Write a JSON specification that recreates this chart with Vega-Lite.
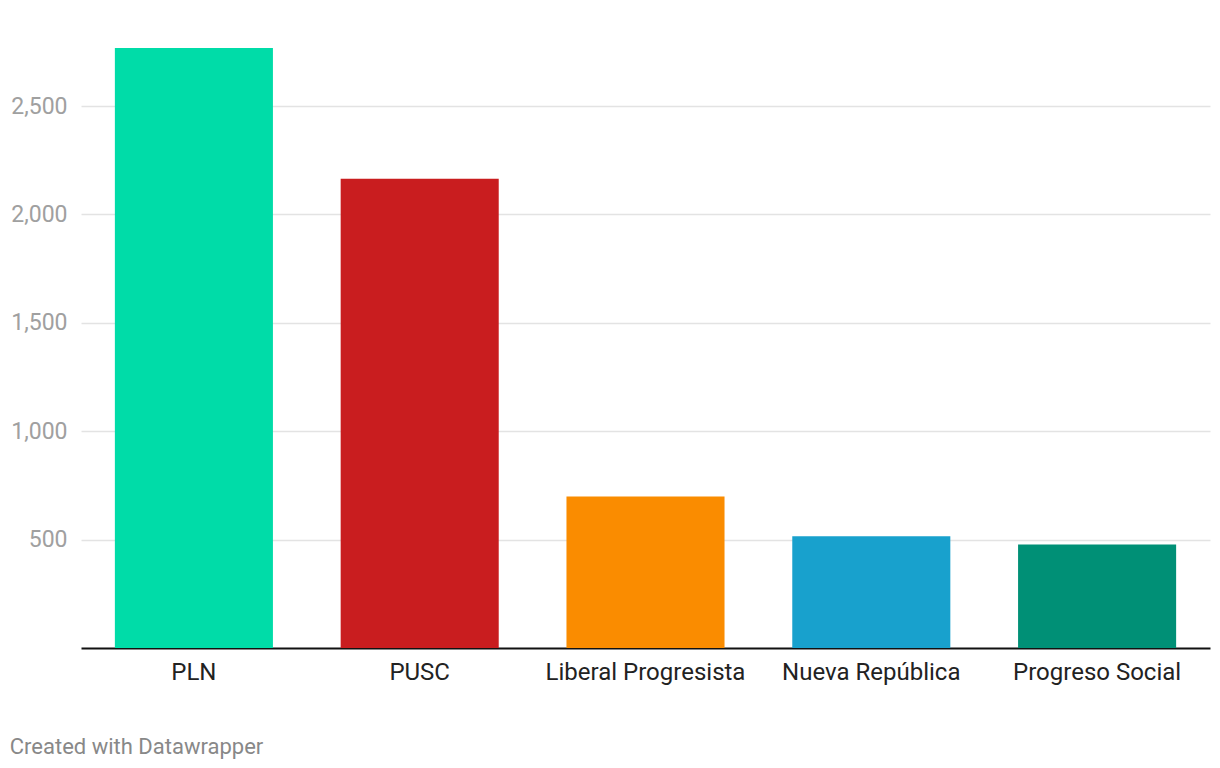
{
  "$schema": "https://vega.github.io/schema/vega-lite/v6.json",
  "width": 1129,
  "height": 600,
  "autosize": "none",
  "padding": {"left": 81, "top": 48, "right": 10, "bottom": 120},
  "background": "white",
  "config": {"view": {"stroke": null}, "font": "Roboto"},
  "title": {
    "text": "Created with Datawrapper",
    "orient": "bottom",
    "anchor": "start",
    "dx": -1,
    "offset": 53,
    "fontSize": 22,
    "fontWeight": "normal",
    "color": "#888888",
    "font": "Roboto"
  },
  "data": {
    "values": [
      {"party": "PLN", "value": 2768, "color": "#00dca8"},
      {"party": "PUSC", "value": 2165, "color": "#c91d1f"},
      {"party": "Liberal Progresista", "value": 699, "color": "#fa8c00"},
      {"party": "Nueva República", "value": 515, "color": "#18a1cd"},
      {"party": "Progreso Social", "value": 478, "color": "#009076"}
    ]
  },
  "mark": {"type": "bar"},
  "encoding": {
    "x": {
      "field": "party",
      "type": "nominal",
      "sort": null,
      "scale": {"paddingInner": 0.3, "paddingOuter": 0.15},
      "axis": {
        "title": null,
        "labelAngle": 0,
        "labelFontSize": 24,
        "labelLimit": 0,
        "labelColor": "#222222",
        "labelFont": "Roboto",
        "labelPadding": 12,
        "ticks": false,
        "domainColor": "#111111",
        "domainWidth": 2,
        "grid": false
      }
    },
    "y": {
      "field": "value",
      "type": "quantitative",
      "scale": {"domain": [0, 2768], "nice": false},
      "axis": {
        "title": null,
        "values": [500, 1000, 1500, 2000, 2500],
        "format": ",.0f",
        "labelFontSize": 23,
        "labelColor": "#a0a0a0",
        "labelFont": "Roboto",
        "labelPadding": 14,
        "ticks": false,
        "domain": false,
        "grid": true,
        "gridColor": "#e3e3e3",
        "gridWidth": 1.5
      }
    },
    "color": {"field": "color", "type": "nominal", "scale": null, "legend": null}
  }
}
